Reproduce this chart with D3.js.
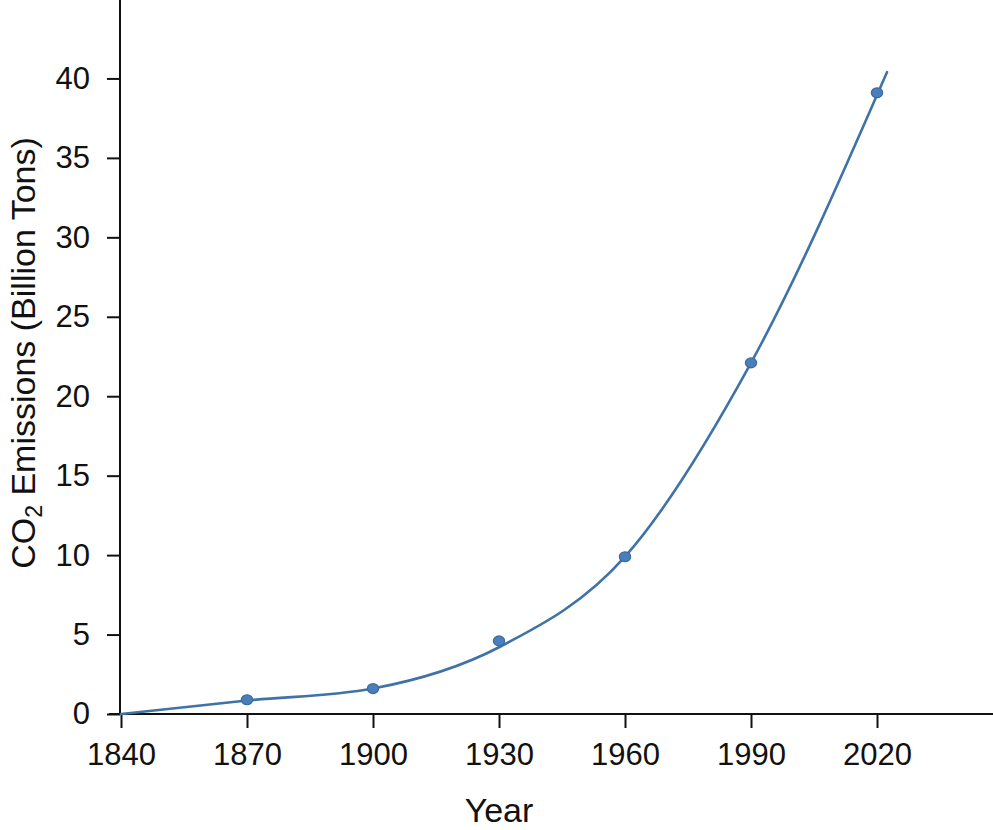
<!DOCTYPE html>
<html>
<head>
  <meta charset="utf-8">
  <title>CO2 Emissions</title>
  <style>
  body { margin: 0; background: #fff; }
  svg { font-family: "Liberation Sans", Arial, Helvetica, sans-serif; }
  .axis text { font-size: 31px; fill: #111; }
  .axis line, .axis path { stroke: #111; stroke-width: 2; }
  </style>
</head>
<body>
  <div id="chart"></div>
  <script src="https://d3js.org/d3.v7.min.js"></script>
  <script>
    // measured points
    var years = [1870, 1900, 1930, 1960, 1990, 2020];
    var emissions = [0.9, 1.6, 4.6, 9.9, 22.1, 39.1];

    // fitted curve as drawn in the figure
    var trendYears = [1840, 1870, 1900, 1930, 1960, 1990, 2022.4];
    var trendValues = [0, 0.85, 1.6, 4.2, 9.9, 22.1, 40.4];

    var xTicks = [1840, 1870, 1900, 1930, 1960, 1990, 2020];
    var yTicks = [0, 5, 10, 15, 20, 25, 30, 35, 40];

    var width = 993;
    var height = 830;

    var svg = d3.select("#chart").append("svg")
        .attr("width", width)
        .attr("height", height);

    var x = d3.scaleLinear()
        .domain([1840, 2020])
        .range([121, 877]);

    var y = d3.scaleLinear()
        .domain([0, 45])
        .range([714, -1]);

    // x axis
    var gx = svg.append("g")
        .attr("class", "axis")
        .attr("transform", "translate(0," + y(0) + ")")
        .call(d3.axisBottom(x)
          .tickValues(xTicks)
          .tickFormat(d3.format("d"))
          .tickSize(14)
          .tickPadding(15)
          .tickSizeOuter(0));
    gx.select(".domain").remove();
    gx.append("line")
        .attr("x1", 109)
        .attr("x2", width)
        .attr("y1", 0)
        .attr("y2", 0);

    // y axis
    var gy = svg.append("g")
        .attr("class", "axis")
        .attr("transform", "translate(120,0)")
        .call(d3.axisLeft(y)
          .tickValues(yTicks)
          .tickSize(13)
          .tickPadding(17)
          .tickSizeOuter(0));
    gy.select(".domain").remove();
    gy.append("line")
        .attr("x1", 0)
        .attr("x2", 0)
        .attr("y1", 0)
        .attr("y2", y(0));

    // axis titles
    svg.append("text")
        .attr("x", 499)
        .attr("y", 822)
        .attr("text-anchor", "middle")
        .attr("font-size", 34)
        .attr("fill", "#111")
        .text("Year");

    var ylab = svg.append("text")
        .attr("transform", "translate(35,353) rotate(-90)")
        .attr("text-anchor", "middle")
        .attr("font-size", 34)
        .attr("fill", "#111");
    ylab.append("tspan").text("CO");
    ylab.append("tspan").attr("font-size", 23).attr("dy", 7).text("2");
    ylab.append("tspan").attr("dy", -7).text(" Emissions (Billion Tons)");

    // curve
    var line = d3.line()
        .x(function(d) { return x(d[0]); })
        .y(function(d) { return y(d[1]); })
        .curve(d3.curveMonotoneX);

    svg.append("path")
        .datum(d3.zip(trendYears, trendValues))
        .attr("fill", "none")
        .attr("stroke", "#3f72a7")
        .attr("stroke-width", 2.6)
        .attr("stroke-linecap", "round")
        .attr("d", line);

    // points
    svg.append("g")
      .selectAll("ellipse")
      .data(d3.zip(years, emissions))
      .enter().append("ellipse")
        .attr("cx", function(d) { return x(d[0]); })
        .attr("cy", function(d) { return y(d[1]); })
        .attr("rx", 5.6)
        .attr("ry", 4.9)
        .attr("fill", "#4a80b9")
        .attr("stroke", "#3b6c9f")
        .attr("stroke-width", 1.3);
  </script>
</body>
</html>
